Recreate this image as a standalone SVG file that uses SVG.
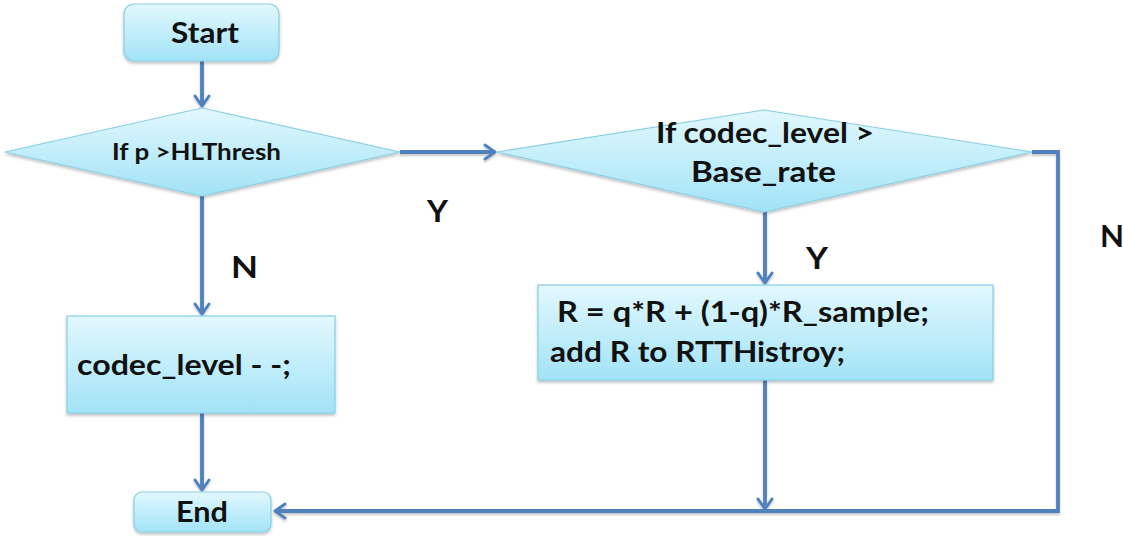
<svg xmlns="http://www.w3.org/2000/svg" width="1123" height="536" viewBox="0 0 1123 536">
  <defs>
    <linearGradient id="fillGrad" x1="0" y1="0" x2="0" y2="1">
      <stop offset="0" stop-color="#e2f8fe"/>
      <stop offset="1" stop-color="#a2e3f7"/>
    </linearGradient>
    <filter id="shadow" x="-10%" y="-10%" width="120%" height="130%">
      <feDropShadow dx="0" dy="2" stdDeviation="1.5" flood-color="#000" flood-opacity="0.25"/>
    </filter>
    <filter id="lineShadow" filterUnits="userSpaceOnUse" x="0" y="0" width="1123" height="536">
      <feDropShadow dx="0" dy="2" stdDeviation="1.2" flood-color="#000" flood-opacity="0.22"/>
    </filter>
    <marker id="arrow" viewBox="0 0 16 18" refX="13" refY="9" markerWidth="16" markerHeight="18" markerUnits="userSpaceOnUse" orient="auto">
      <path d="M3,2 L13,9 L3,16" fill="none" stroke="#4f81bd" stroke-width="3" stroke-linecap="round" stroke-linejoin="round"/>
    </marker>
  </defs>
  <style>
    .shape { fill: url(#fillGrad); stroke: #86cfe4; stroke-width: 1.2; filter: url(#shadow); }
    .label { font-family: Lato, "Open Sans", "Liberation Sans", sans-serif; font-weight: bold; fill: #111; }
    .conn { fill: none; stroke: #4f81bd; stroke-width: 3.8; stroke-linejoin: miter; }
  </style>

  <rect width="1123" height="536" fill="#fff"/>

  <!-- connectors -->
  <g id="connectors" filter="url(#lineShadow)">
    <path class="conn" d="M202,61 L202,106" marker-end="url(#arrow)"/>
    <path class="conn" d="M400,152 L495,152" marker-end="url(#arrow)"/>
    <path class="conn" d="M202,196 L202,314" marker-end="url(#arrow)"/>
    <path class="conn" d="M202,413 L202,490" marker-end="url(#arrow)"/>
    <path class="conn" d="M765,212 L765,283" marker-end="url(#arrow)"/>
    <path class="conn" d="M765,380 L765,509" marker-end="url(#arrow)"/>
    <path class="conn" d="M1032,152 L1058,152 L1058,511 L275,511" marker-end="url(#arrow)"/>
  </g>
  <g id="branch-labels">
    <text class="label" x="427" y="222" font-size="30" textLength="21" lengthAdjust="spacingAndGlyphs">Y</text>
    <text class="label" x="231" y="278" font-size="30" textLength="27" lengthAdjust="spacingAndGlyphs">N</text>
    <text class="label" x="806" y="269" font-size="30" textLength="22" lengthAdjust="spacingAndGlyphs">Y</text>
    <text class="label" x="1100" y="247" font-size="30" textLength="24" lengthAdjust="spacingAndGlyphs">N</text>
  </g>

  <!-- Start -->
  <g id="start">
    <rect class="shape" x="124" y="4" width="155" height="57" rx="10"/>
    <text class="label" x="171" y="43" font-size="28" textLength="68" lengthAdjust="spacingAndGlyphs">Start</text>
  </g>

  <!-- first decision -->
  <g id="check-threshold">
    <polygon class="shape" points="5,152 202,108 400,152 202,196"/>
    <text class="label" x="112" y="160" font-size="22" textLength="169" lengthAdjust="spacingAndGlyphs">If p &gt;HLThresh</text>
  </g>

  <!-- second decision -->
  <g id="check-codec">
    <polygon class="shape" points="497,152 764,110 1032,152 764,212"/>
    <text class="label" x="656" y="143" font-size="28" textLength="218" lengthAdjust="spacingAndGlyphs">If codec_level &gt;</text>
    <text class="label" x="691" y="182" font-size="28" textLength="145" lengthAdjust="spacingAndGlyphs">Base_rate</text>
  </g>

  <!-- decrement codec level -->
  <g id="decrement">
    <rect class="shape" x="67" y="316" width="268" height="97"/>
    <text class="label" x="77" y="375" font-size="28" textLength="214" lengthAdjust="spacingAndGlyphs">codec_level - -;</text>
  </g>

  <!-- update RTT -->
  <g id="update-rtt">
    <rect class="shape" x="538" y="285" width="455" height="95"/>
    <text class="label" x="557" y="322" font-size="28" textLength="372" lengthAdjust="spacingAndGlyphs">R = q*R + (1-q)*R_sample;</text>
    <text class="label" x="550" y="362" font-size="28" textLength="295" lengthAdjust="spacingAndGlyphs">add R to RTTHistroy;</text>
  </g>

  <!-- End -->
  <g id="end">
    <rect class="shape" x="134" y="492" width="137" height="40" rx="8"/>
    <text class="label" x="176" y="522" font-size="28" textLength="52" lengthAdjust="spacingAndGlyphs">End</text>
  </g>
</svg>
